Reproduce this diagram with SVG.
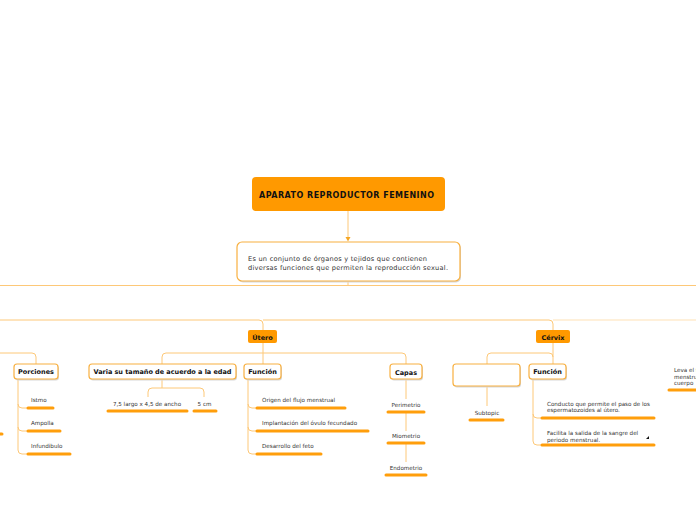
<svg xmlns="http://www.w3.org/2000/svg" width="696" height="520" viewBox="0 0 696 520">
<defs>
<style>
.t{font-family:"DejaVu Sans","Verdana",sans-serif;fill:#333}
.b{font-weight:bold;fill:#111}
.c{fill:none;stroke:#FDC878;stroke-width:1}
.bar{stroke:#FF9E0B;stroke-width:3;stroke-linecap:round}
.box{fill:#fff;stroke:#F8B040;stroke-width:1.2}
.sh{fill:#d8d8d8}
.of{fill:#FF9900}
</style>
</defs>
<rect width="696" height="520" fill="#fff"/>
<g id="connectors">
<path class="c" d="M348 211 V239"/>
<path d="M345.5 237 L348 241.5 L350.5 237 Z" fill="#F5A623"/>
<path class="c" d="M348 281 V285"/>
<path class="c" d="M0 285.5 H696"/>
<path class="c" stroke-width="1.5" d="M0 320 H259 q4 0 4 4 V330"/>
<path class="c" stroke-width="1.5" d="M263 320 H549 q4 0 4 4 V330"/>
<path class="c" stroke-width="1.5" opacity="0.55" d="M553 320 H696"/>
<path class="c" d="M263 343 V364"/>
<path class="c" d="M162 364 V357 q0 -4 4 -4 H402 q4 0 4 4 V364"/>
<path class="c" d="M0 353 H32 q4 0 4 4 V364"/>
<path class="c" d="M18 379 V450 q0 4 4 4 H27 M18 404 q0 4 4 4 H27 M18 427 q0 4 4 4 H27"/>
<path class="c" d="M162 379 V388 M148 397 V392 q0 -4 4 -4 H200 q4 0 4 4 V397"/>
<path class="c" d="M248 379 V450 q0 4 4 4 H256 M248 404 q0 4 4 4 H256 M248 427 q0 4 4 4 H256"/>
<path class="c" d="M406 379 V399 M406 413 V431 M406 444 V462"/>
<path class="c" d="M553 343 V364 M487 364 V357 q0 -4 4 -4 H549 q4 0 4 4"/>
<path class="c" d="M487 386 V406"/>
<path class="c" d="M533 379 V441 q0 4 4 4 H541 M533 414 q0 4 4 4 H541"/>
</g>
<g id="root">
<rect class="of" x="252" y="177" width="193" height="34" rx="4"/>
<text class="t b" x="259" y="197.5" font-size="8" textLength="175">APARATO REPRODUCTOR FEMENINO</text>
</g>
<g id="desc">
<rect class="sh" x="238" y="243.5" width="223" height="39" rx="5"/>
<rect class="box" x="237" y="242" width="223" height="39" rx="5"/>
<text class="t" x="248" y="261" font-size="6.6" textLength="179">Es un conjunto de órganos y tejidos que contienen</text>
<text class="t" x="248" y="269.5" font-size="6.6" textLength="200">diversas funciones que permiten  la reproducción sexual.</text>
</g>
<g id="utero">
<rect class="of" x="248" y="330" width="29" height="13" rx="2"/>
<text class="t b" x="262.5" y="339.5" font-size="6.5" text-anchor="middle">Útero</text>
</g>
<g id="cervix">
<rect class="of" x="536" y="330" width="34" height="13" rx="2"/>
<text class="t b" x="553" y="339.5" font-size="6.5" text-anchor="middle">Cérvix</text>
</g>
<g id="porciones">
<rect class="sh" x="15" y="365.5" width="44" height="15" rx="3"/>
<rect class="box" x="14" y="364" width="44" height="15" rx="3"/>
<text class="t b" x="36" y="374" font-size="6.5" text-anchor="middle">Porciones</text>
</g>
<g id="istmo"><text class="t" x="31" y="402" font-size="5.6">Istmo</text><line class="bar" x1="28" y1="408" x2="53" y2="408"/></g>
<g id="ampolla"><text class="t" x="31" y="425" font-size="5.6">Ampolla</text><line class="bar" x1="28" y1="431" x2="60" y2="431"/></g>
<g id="infundibulo"><text class="t" x="31" y="448" font-size="5.6">Infundibulo</text><line class="bar" x1="28" y1="454" x2="70" y2="454"/></g>
<g id="left-stub"><line class="bar" x1="-3" y1="434" x2="2" y2="434"/></g>
<g id="varia">
<rect class="sh" x="90" y="365.5" width="147" height="15" rx="3"/>
<rect class="box" x="89" y="364" width="147" height="15" rx="3"/>
<text class="t b" x="162.5" y="374" font-size="6.5" text-anchor="middle" textLength="138">Varia su tamaño de acuerdo a la edad</text>
</g>
<g id="medida"><text class="t" x="147" y="406" font-size="5.6" text-anchor="middle">7,5 largo x 4,5 de ancho</text><line class="bar" x1="108" y1="411" x2="187" y2="411"/></g>
<g id="cm"><text class="t" x="204.5" y="406" font-size="5.6" text-anchor="middle">5 cm</text><line class="bar" x1="194" y1="411" x2="216" y2="411"/></g>
<g id="funcion-utero">
<rect class="sh" x="245" y="365.5" width="37" height="15" rx="3"/>
<rect class="box" x="244" y="364" width="37" height="15" rx="3"/>
<text class="t b" x="262.5" y="374" font-size="6.5" text-anchor="middle">Función</text>
</g>
<g id="origen"><text class="t" x="262" y="402" font-size="5.6">Origen del flujo menstrual</text><line class="bar" x1="257" y1="408" x2="345" y2="408"/></g>
<g id="implantacion"><text class="t" x="262" y="425" font-size="5.6">Implantación del óvulo fecundado</text><line class="bar" x1="257" y1="431" x2="368" y2="431"/></g>
<g id="desarrollo"><text class="t" x="262" y="448" font-size="5.6">Desarrollo del feto</text><line class="bar" x1="257" y1="454" x2="321" y2="454"/></g>
<g id="capas">
<rect class="sh" x="391" y="365.5" width="32" height="15" rx="3"/>
<rect class="box" x="390" y="364" width="32" height="15" rx="3"/>
<text class="t b" x="406" y="374.5" font-size="6.5" text-anchor="middle">Capas</text>
</g>
<g id="perimetrio"><text class="t" x="406" y="407" font-size="5.6" text-anchor="middle">Perimetrio</text><line class="bar" x1="388" y1="412" x2="424" y2="412"/></g>
<g id="miometrio"><text class="t" x="406" y="438" font-size="5.6" text-anchor="middle">Miometrio</text><line class="bar" x1="388" y1="443" x2="424" y2="443"/></g>
<g id="endometrio"><text class="t" x="406" y="470" font-size="5.6" text-anchor="middle">Endometrio</text><line class="bar" x1="386" y1="475" x2="426" y2="475"/></g>
<g id="empty">
<rect class="sh" x="454" y="365.5" width="67" height="22" rx="3"/>
<rect class="box" x="453" y="364" width="67" height="22" rx="3"/>
</g>
<g id="subtopic"><text class="t" x="487" y="415" font-size="5.6" text-anchor="middle">Subtopic</text><line class="bar" x1="470" y1="420" x2="503" y2="420"/></g>
<g id="funcion-cervix">
<rect class="sh" x="530" y="365.5" width="37" height="15" rx="3"/>
<rect class="box" x="529" y="364" width="37" height="15" rx="3"/>
<text class="t b" x="547.5" y="374" font-size="6.5" text-anchor="middle">Función</text>
</g>
<g id="conducto">
<text class="t" x="547" y="406" font-size="5.6">Conducto que permite el paso de los</text>
<text class="t" x="547" y="412" font-size="5.6">espermatozoides al útero.</text>
<line class="bar" x1="542" y1="418" x2="654" y2="418"/>
</g>
<g id="facilita">
<text class="t" x="547" y="435" font-size="5.6">Facilita la salida de la sangre del</text>
<text class="t" x="547" y="442" font-size="5.6">periodo menstrual.</text>
<polygon points="646,439 649,436 649,439" fill="#111"/>
<line class="bar" x1="542" y1="445" x2="654" y2="445"/>
</g>
<g id="leva">
<text class="t" x="674" y="372" font-size="5.6">Leva el flujo</text>
<text class="t" x="674" y="378.5" font-size="5.6">menstrual</text>
<text class="t" x="674" y="385" font-size="5.6">cuerpo</text>
<line class="bar" x1="669" y1="390" x2="700" y2="390"/>
</g>
</svg>
